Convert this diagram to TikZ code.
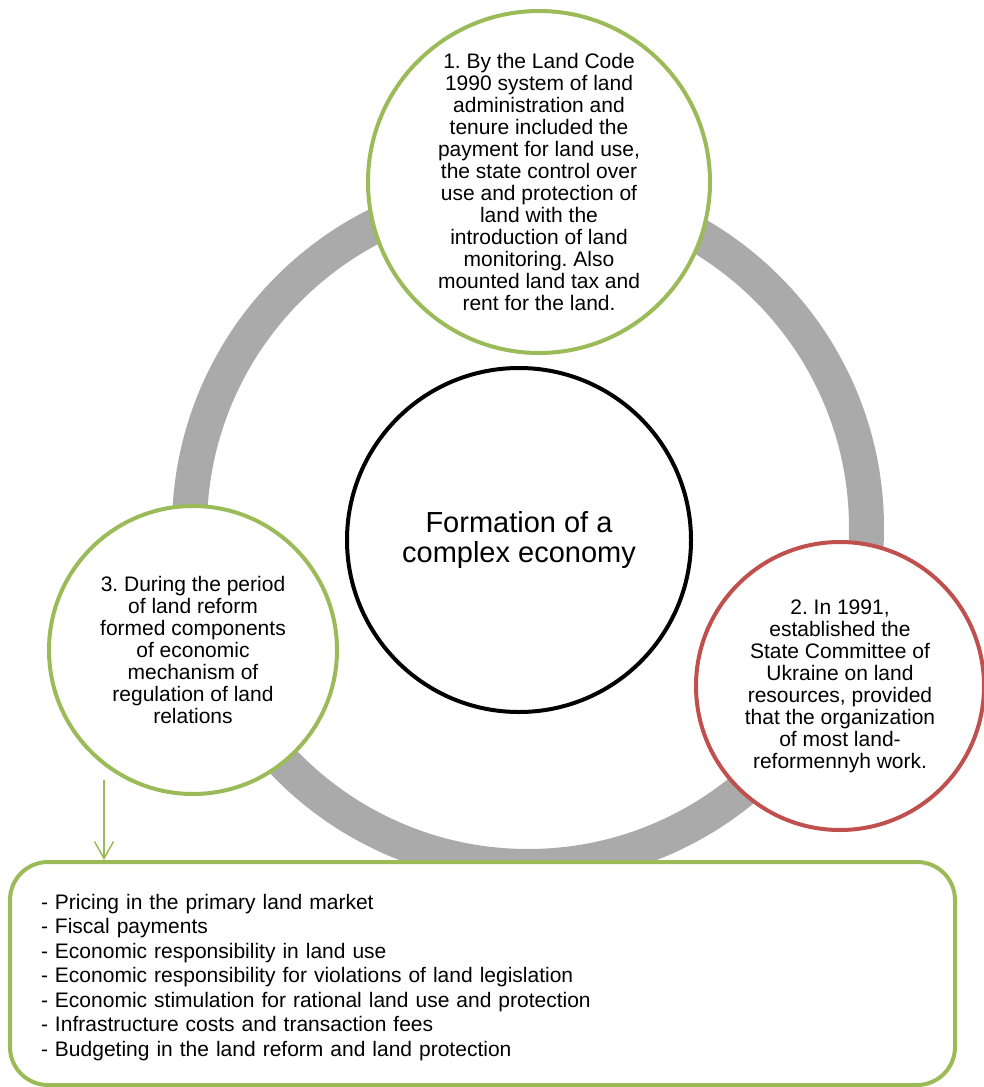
\documentclass[tikz,border=0pt]{standalone}
\usepackage{fontspec}
\setmainfont{Liberation Sans}
\frenchspacing
\usetikzlibrary{arrows.meta}
\definecolor{leafc}{HTML}{9BBB59}
\definecolor{brickc}{HTML}{C0504D}
\definecolor{ringc}{HTML}{AAAAAA}

\begin{document}
\begin{tikzpicture}[x=1pt, y=-1pt,
  stage/.style={circle, draw=leafc, line width=4pt, fill=white, inner sep=0pt,
    align=center, font=\fontsize{21}{22}\selectfont},
  hub/.style={circle, draw=black, line width=4pt, fill=white, inner sep=0pt,
    align=center, font=\fontsize{29}{30}\selectfont}]
  \useasboundingbox (0,0) rectangle (984,1087);
  % grey ring behind everything
  \draw[ringc, line width=35pt] (528,528) circle[radius=338.5pt];
  \node[hub, minimum size=344pt] (core) at (519,540) {Formation of a\\complex economy};
  \node[stage, minimum size=342pt] (code) at (539,182)
    {1. By the Land Code\\1990 system of land\\administration and\\tenure included the\\payment for land use,\\the state control over\\use and protection of\\land with the\\introduction of land\\monitoring. Also\\mounted land tax and\\rent for the land.};
  \node[stage, draw=brickc, minimum size=288pt] (committee) at (840,686)
    {2. In 1991,\\established the\\State Committee of\\Ukraine on land\\resources, provided\\that the organization\\of most land-\\reformennyh work.};
  \node[stage, minimum size=288pt] (reform) at (193,650)
    {3. During the period\\of land reform\\formed components\\of economic\\mechanism of\\regulation of land\\relations};
  % list of components
  \node[draw=leafc, line width=4pt, fill=white, rounded corners=38pt,
    minimum width=945pt, minimum height=223pt] (parts) at (482.5,973.5) {};
  \node[text width=883pt, inner sep=0pt, align=left, font=\fontsize{21}{24.5}\selectfont]
    (partslist) at ([yshift=-4pt]parts.center)
    {- Pricing in the primary land market\\
     - Fiscal payments\\
     - Economic responsibility in land use\\
     - Economic responsibility for violations of land legislation\\
     - Economic stimulation for rational land use and protection\\
     - Infrastructure costs and transaction fees\\
     - Budgeting in the land reform and land protection};
  \coordinate (drop) at (104,780);
  \draw[leafc, line width=1.5pt, -{Straight Barb[length=17pt,width=19pt]}] (drop) -- (drop |- parts.north);
\end{tikzpicture}
\end{document}
